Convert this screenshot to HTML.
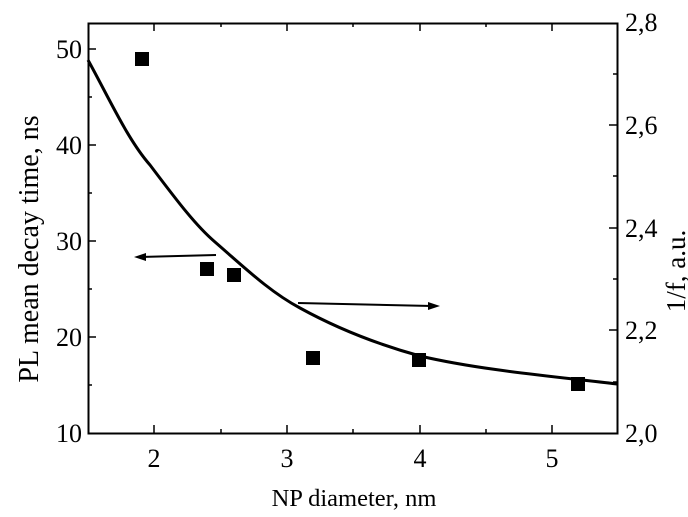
<!DOCTYPE html>
<html><head><style>body{margin:0;background:#fff}svg{display:block}</style></head><body>
<svg width="688" height="517" viewBox="0 0 688 517" font-family="Liberation Serif, serif" font-size="23" fill="#000">
<rect x="0" y="0" width="688" height="517" fill="#fff"/>
<rect x="88.5" y="23.5" width="529" height="410" fill="none" stroke="#000" stroke-width="2"/>
<g stroke="#000" stroke-width="1.5">
<line x1="88" y1="49" x2="96" y2="49"/><line x1="88" y1="145" x2="96" y2="145"/><line x1="88" y1="241" x2="96" y2="241"/><line x1="88" y1="337" x2="96" y2="337"/>
<line x1="88" y1="97" x2="92" y2="97"/><line x1="88" y1="193" x2="92" y2="193"/><line x1="88" y1="289" x2="92" y2="289"/><line x1="88" y1="385" x2="92" y2="385"/>
<line x1="617" y1="330" x2="609" y2="330"/><line x1="617" y1="228" x2="609" y2="228"/><line x1="617" y1="125" x2="609" y2="125"/>
<line x1="617" y1="382" x2="613" y2="382"/><line x1="617" y1="279" x2="613" y2="279"/><line x1="617" y1="176" x2="613" y2="176"/><line x1="617" y1="74" x2="613" y2="74"/>
<line x1="154" y1="433" x2="154" y2="425"/><line x1="287" y1="433" x2="287" y2="425"/><line x1="420" y1="433" x2="420" y2="425"/><line x1="552" y1="433" x2="552" y2="425"/>
<line x1="154" y1="23" x2="154" y2="31"/><line x1="287" y1="23" x2="287" y2="31"/><line x1="420" y1="23" x2="420" y2="31"/><line x1="552" y1="23" x2="552" y2="31"/>
<line x1="221" y1="433" x2="221" y2="429"/><line x1="353" y1="433" x2="353" y2="429"/><line x1="486" y1="433" x2="486" y2="429"/>
<line x1="221" y1="23" x2="221" y2="27"/><line x1="353" y1="23" x2="353" y2="27"/><line x1="486" y1="23" x2="486" y2="27"/>
</g>
<g text-anchor="end" font-size="26">
<text x="82" y="58">50</text><text x="82" y="154">40</text><text x="82" y="250">30</text><text x="82" y="346">20</text><text x="82" y="442">10</text>
</g>
<g text-anchor="start" font-size="26">
<text x="625" y="31">2,8</text><text x="625" y="134">2,6</text><text x="625" y="237">2,4</text><text x="625" y="339">2,2</text><text x="625" y="442">2,0</text>
</g>
<g text-anchor="middle">
<text x="154" y="467" font-size="26">2</text><text x="287" y="467" font-size="26">3</text><text x="420" y="467" font-size="26">4</text><text x="552" y="467" font-size="26">5</text>
<text x="354" y="506" font-size="24.5">NP diameter, nm</text>
<text transform="translate(38,249) rotate(-90)" font-size="28">PL mean decay time, ns</text>
<text transform="translate(685,271) rotate(-90)" font-size="27">1/f, a.u.</text>
</g>
<path d="M88,60 C110,100 128,140 150,165 C175,198 195,225 215,242 C245,268 270,292 300,308 C340,330 380,345 420,356 C480,370 550,376 617,384" fill="none" stroke="#000" stroke-width="3"/>
<g fill="#000">
<rect x="135" y="52" width="14" height="14"/>
<rect x="200" y="262" width="14" height="14"/>
<rect x="227" y="268" width="14" height="14"/>
<rect x="306" y="351" width="14" height="14"/>
<rect x="412" y="353" width="14" height="14"/>
<rect x="571" y="377" width="14" height="14"/>
</g>
<g stroke="#000" stroke-width="2" fill="#000">
<line x1="216" y1="255" x2="140" y2="257"/><path d="M134,257 L146,253 L146,261 Z" stroke="none"/>
<line x1="298" y1="303" x2="432" y2="306"/><path d="M440,306 L428,302 L428,310 Z" stroke="none"/>
</g>
</svg>
</body></html>
